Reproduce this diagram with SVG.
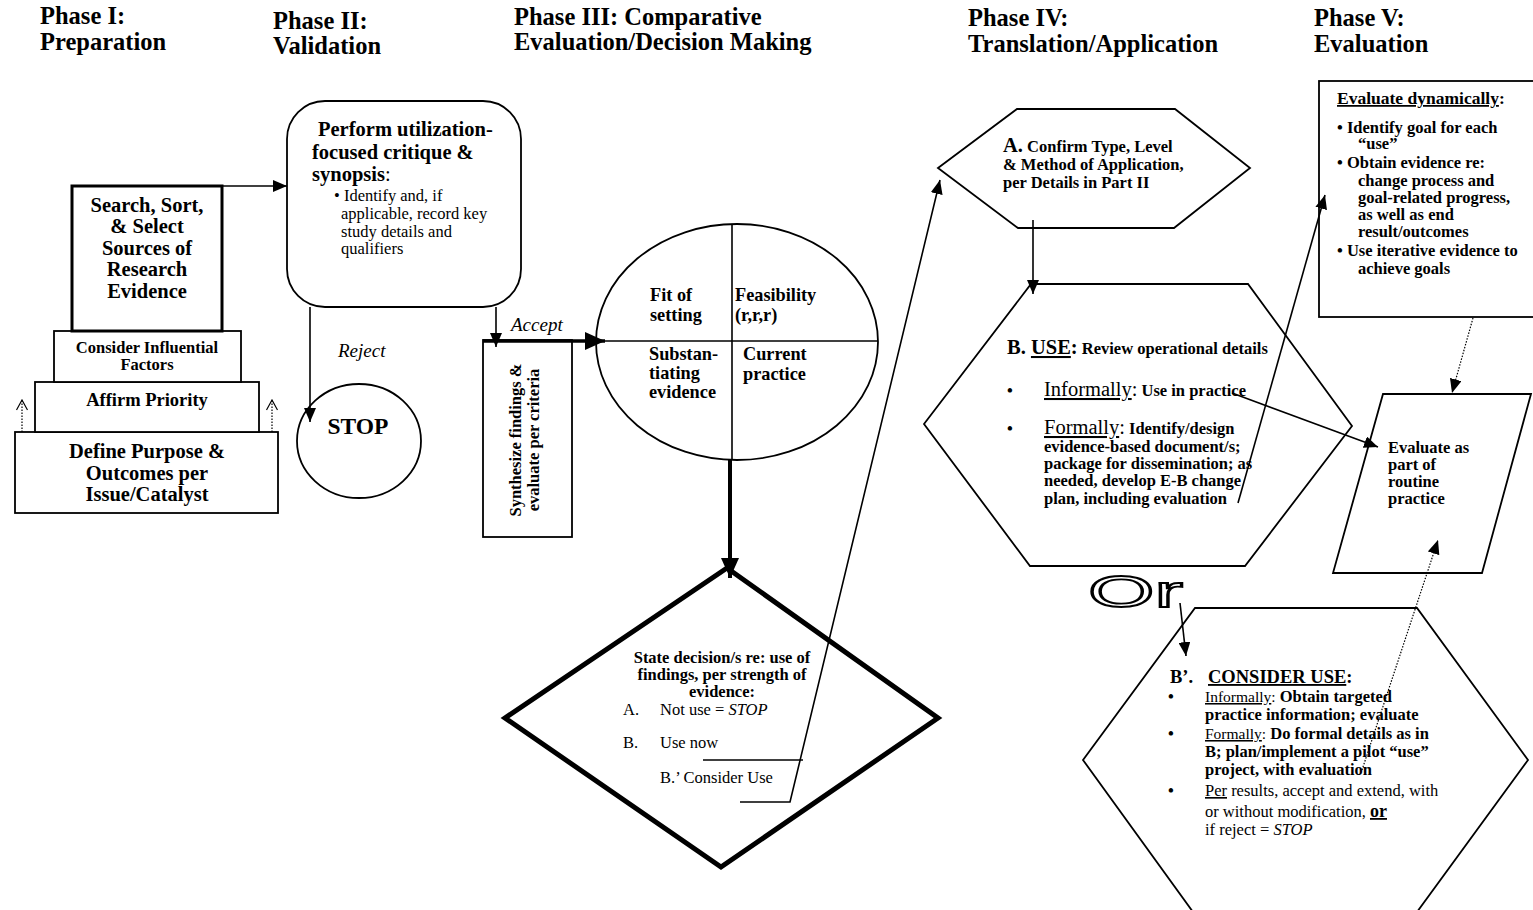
<svg xmlns="http://www.w3.org/2000/svg" width="1533" height="910" viewBox="0 0 1533 910">
<defs>
<style>
text{font-family:"Liberation Serif","Times New Roman",serif;fill:#000}
.t{font-size:24.5px;font-weight:bold}
.b{font-weight:bold}
.s15{font-size:15px}.s16{font-size:16.5px}.s17{font-size:18.3px}.s18{font-size:18.5px}.s19{font-size:19px}.s20{font-size:20.5px}.s205{font-size:20.5px}
.i{font-style:italic}
.u{text-decoration:underline}
.n{font-weight:normal}
.shape{fill:#fff;stroke:#000;stroke-width:1.8}
.thick{fill:#fff;stroke:#000;stroke-width:3}
.ln{fill:none;stroke:#000;stroke-width:1.6}
.dot{fill:none;stroke:#000;stroke-width:1.2;stroke-dasharray:1.5 1.5}
</style>
<marker id="ah" viewBox="0 0 14 12" refX="14" refY="6" markerWidth="14" markerHeight="12" markerUnits="userSpaceOnUse" orient="auto"><path d="M0,0 L14,6 L0,12 z"/></marker>
<marker id="ahb" viewBox="0 0 20 18" refX="20" refY="9" markerWidth="20" markerHeight="18" markerUnits="userSpaceOnUse" orient="auto"><path d="M0,0 L20,9 L0,18 z"/></marker>
<marker id="open" viewBox="0 0 12 12" refX="11" refY="6" markerWidth="12" markerHeight="12" markerUnits="userSpaceOnUse" orient="auto"><path d="M1,0.5 L11,6 L1,11.5" fill="none" stroke="#000" stroke-width="1.2"/></marker>
</defs>
<rect width="1533" height="910" fill="#fff"/>

<g id="titles">
<text class="t" x="40" y="24">Phase I:</text>
<text class="t" x="40" y="50">Preparation</text>
<text class="t" x="273" y="29">Phase II:</text>
<text class="t" x="273" y="54">Validation</text>
<text class="t" x="514" y="25">Phase III: Comparative</text>
<text class="t" x="514" y="50">Evaluation/Decision Making</text>
<text class="t" x="968" y="26">Phase IV:</text>
<text class="t" x="968" y="52">Translation/Application</text>
<text class="t" x="1314" y="26">Phase V:</text>
<text class="t" x="1314" y="52">Evaluation</text>
</g>

<g id="define-purpose">
<rect class="shape" x="15" y="432" width="263" height="81"/>
<text class="b s205" x="147" y="458" text-anchor="middle">Define Purpose &amp;</text>
<text class="b s205" x="147" y="480" text-anchor="middle">Outcomes per</text>
<text class="b s205" x="147" y="501" text-anchor="middle">Issue/Catalyst</text>
</g>
<g id="affirm-priority">
<rect class="shape" x="35" y="382" width="224" height="50"/>
<text class="b s18" x="147" y="406" text-anchor="middle">Affirm Priority</text>
</g>
<g id="consider-factors">
<rect class="shape" x="54" y="331" width="187" height="51"/>
<text class="b" font-size="16.5" x="147" y="353" text-anchor="middle">Consider Influential</text>
<text class="b" font-size="16.5" x="147" y="370" text-anchor="middle">Factors</text>
</g>
<g id="search-sort">
<rect class="thick" x="72" y="186" width="150" height="145"/>
<text class="b s205" x="147" y="212" text-anchor="middle">Search, Sort,</text>
<text class="b s205" x="147" y="233" text-anchor="middle">&amp; Select</text>
<text class="b s205" x="147" y="255" text-anchor="middle">Sources of</text>
<text class="b s205" x="147" y="276" text-anchor="middle">Research</text>
<text class="b s205" x="147" y="298" text-anchor="middle">Evidence</text>
</g>

<g id="critique">
<rect class="shape" x="287" y="101" width="234" height="206" rx="38"/>
<text class="b s205" x="318" y="136">Perform utilization-</text>
<text class="b s205" x="312" y="159">focused critique &amp;</text>
<text class="b s205" x="312" y="181">synopsis<tspan class="n">:</tspan></text>
<text class="s16" x="334" y="201">• Identify and, if</text>
<text class="s16" x="341" y="219">applicable, record key</text>
<text class="s16" x="341" y="237">study details and</text>
<text class="s16" x="341" y="254">qualifiers</text>
</g>

<g id="stop">
<ellipse class="shape" cx="359" cy="441" rx="62" ry="57"/>
<text class="b" font-size="23.5" x="358" y="434" text-anchor="middle">STOP</text>
</g>

<g id="synthesize">
<rect class="shape" x="483" y="340" width="89" height="197"/>
<text class="b s16" transform="translate(521,440) rotate(-90)" text-anchor="middle">Synthesize findings &amp;</text>
<text class="b s16" transform="translate(539,440) rotate(-90)" text-anchor="middle">evaluate per criteria</text>
</g>

<g id="criteria-circle">
<ellipse class="shape" cx="737" cy="342" rx="141" ry="118"/>
<line class="ln" x1="732" y1="224" x2="732" y2="460"/>
<line class="ln" x1="596" y1="341" x2="878" y2="341"/>
<text class="b s17" x="650" y="301">Fit of</text>
<text class="b s17" x="650" y="321">setting</text>
<text class="b s17" x="735" y="301">Feasibility</text>
<text class="b s17" x="735" y="321">(r,r,r)</text>
<text class="b s17" x="649" y="360">Substan-</text>
<text class="b s17" x="649" y="379">tiating</text>
<text class="b s17" x="649" y="398">evidence</text>
<text class="b s17" x="743" y="360">Current</text>
<text class="b s17" x="743" y="380">practice</text>
</g>

<g id="decision">
<polygon points="727,568 938,718 721,867 505,718" fill="#fff" stroke="#000" stroke-width="5" stroke-linejoin="miter"/>
<text class="b s16" x="722" y="663" text-anchor="middle">State decision/s re: use of</text>
<text class="b s16" x="722" y="680" text-anchor="middle">findings, per strength of</text>
<text class="b s16" x="722" y="697" text-anchor="middle">evidence:</text>
<text class="s16" x="623" y="715">A.</text>
<text class="s16" x="660" y="715">Not use = <tspan class="i">STOP</tspan></text>
<text class="s16" x="623" y="748">B.</text>
<text class="s16" x="660" y="748">Use now</text>
<text class="s16" x="660" y="783">B.’ Consider Use</text>
</g>

<g id="confirm-type">
<polygon class="shape" points="938,168 1017,109 1175,109 1250,168 1174,228 1018,228"/>
<text class="b s16" x="1003" y="152"><tspan class="s20">A.</tspan>  Confirm Type, Level</text>
<text class="b s16" x="1003" y="170">&amp; Method of Application,</text>
<text class="b s16" x="1003" y="188">per Details in Part II</text>
</g>

<g id="use">
<polygon class="shape" points="924,424 1031,284 1248,284 1352,426 1245,566 1030,566"/>
<text class="b s16" x="1007" y="354"><tspan class="s20">B. </tspan><tspan class="s20 u">USE</tspan><tspan class="s20">:</tspan> Review operational details</text>
<text class="b s16" x="1007" y="396">•</text>
<text class="b s16" x="1044" y="396"><tspan class="n s20 u">Informally</tspan><tspan class="n s20">:</tspan> Use in practice</text>
<text class="b s16" x="1007" y="434">•</text>
<text class="b s16" x="1044" y="434"><tspan class="n s20 u">Formally</tspan><tspan class="n s20">:</tspan> Identify/design</text>
<text class="b s16" x="1044" y="452">evidence-based document/s;</text>
<text class="b s16" x="1044" y="469">package for dissemination; as</text>
<text class="b s16" x="1044" y="486">needed, develop E-B change</text>
<text class="b s16" x="1044" y="504">plan, including evaluation</text>
</g>

<g id="or-label">
<text x="1088" y="607" font-size="44" textLength="95" lengthAdjust="spacingAndGlyphs" style="font-family:'Liberation Sans',Arial,sans-serif;fill:#fff;stroke:#000;stroke-width:1.8">Or</text>
</g>

<g id="consider-use">
<polygon class="shape" points="1083,760 1195,608 1417,608 1528,760 1417,912 1193,912"/>
<text class="b s18" x="1170" y="683">B’.</text>
<text class="b s18" x="1208" y="683"><tspan class="u">CONSIDER USE</tspan>:</text>
<text class="b s16" x="1168" y="702">•</text>
<text class="b s16" x="1205" y="702"><tspan class="n u" font-size="15.5">Informally</tspan><tspan class="n" font-size="15.5">:</tspan>  Obtain targeted</text>
<text class="b s16" x="1205" y="720">practice information; evaluate</text>
<text class="b s16" x="1168" y="739">•</text>
<text class="b s16" x="1205" y="739"><tspan class="n u" font-size="15.5">Formally</tspan><tspan class="n" font-size="15.5">:</tspan>  Do formal details as in</text>
<text class="b s16" x="1205" y="757">B; plan/implement a pilot “use”</text>
<text class="b s16" x="1205" y="775">project, with evaluation</text>
<text class="b s16" x="1168" y="796">•</text>
<text class="s16" x="1205" y="796"><tspan class="u">Per</tspan> results, accept and extend, with</text>
<text class="s16" x="1205" y="817">or without modification, <tspan class="b u" font-size="18">or</tspan></text>
<text class="s16" x="1205" y="835">if reject  = <tspan class="i">STOP</tspan></text>
</g>

<g id="evaluate-dynamically">
<rect class="shape" x="1319" y="81" width="230" height="236"/>
<text class="b" font-size="17.5" x="1337" y="104"><tspan class="u">Evaluate dynamically</tspan>:</text>
<text class="b s16" x="1337" y="133">• Identify goal for each</text>
<text class="b s16" x="1358" y="149">“use”</text>
<text class="b s16" x="1337" y="168">• Obtain evidence re:</text>
<text class="b s16" x="1358" y="186">change process and</text>
<text class="b s16" x="1358" y="203">goal-related progress,</text>
<text class="b s16" x="1358" y="220">as well as end</text>
<text class="b s16" x="1358" y="237">result/outcomes</text>
<text class="b s16" x="1337" y="256">• Use iterative evidence to</text>
<text class="b s16" x="1358" y="274">achieve goals</text>
</g>

<g id="evaluate-routine">
<polygon class="shape" points="1383,394 1531,394 1482,573 1333,573"/>
<text class="b s16" x="1388" y="453">Evaluate as</text>
<text class="b s16" x="1388" y="470">part of</text>
<text class="b s16" x="1388" y="487">routine</text>
<text class="b s16" x="1388" y="504">practice</text>
</g>

<g id="connectors">
<line class="dot" x1="22" y1="432" x2="22" y2="400" marker-end="url(#open)"/>
<line class="dot" x1="272" y1="432" x2="272" y2="400" marker-end="url(#open)"/>
<line class="ln" x1="222" y1="186" x2="287" y2="186" marker-end="url(#ah)"/>
<line class="ln" x1="310" y1="307" x2="310" y2="422" marker-end="url(#ah)"/>
<text class="i s19" x="338" y="357">Reject</text>
<line class="ln" x1="496" y1="307" x2="496" y2="347" marker-end="url(#ah)"/>
<line x1="483" y1="341" x2="605" y2="341" stroke="#000" stroke-width="3.5" marker-end="url(#ahb)"/>
<text class="i s19" x="511" y="331">Accept</text>
<line x1="730" y1="460" x2="730" y2="578" stroke="#000" stroke-width="4" marker-end="url(#ahb)"/>
<line class="ln" x1="703" y1="760" x2="803" y2="760"/>
<polyline class="ln" points="740,802 790,802 940,180" marker-end="url(#ah)"/>
<line class="ln" x1="1033" y1="220" x2="1033" y2="294" marker-end="url(#ah)"/>
<line class="ln" x1="1232" y1="393" x2="1378" y2="447" marker-end="url(#ah)"/>
<line class="ln" x1="1238" y1="503" x2="1325" y2="195" marker-end="url(#ah)"/>
<line class="ln" x1="1180" y1="603" x2="1186" y2="656" marker-end="url(#ah)"/>
<line class="dot" x1="1473" y1="318" x2="1452" y2="393" marker-end="url(#ah)"/>
<line class="dot" x1="1362" y1="770" x2="1438" y2="540" marker-end="url(#ah)"/>
</g>
</svg>
